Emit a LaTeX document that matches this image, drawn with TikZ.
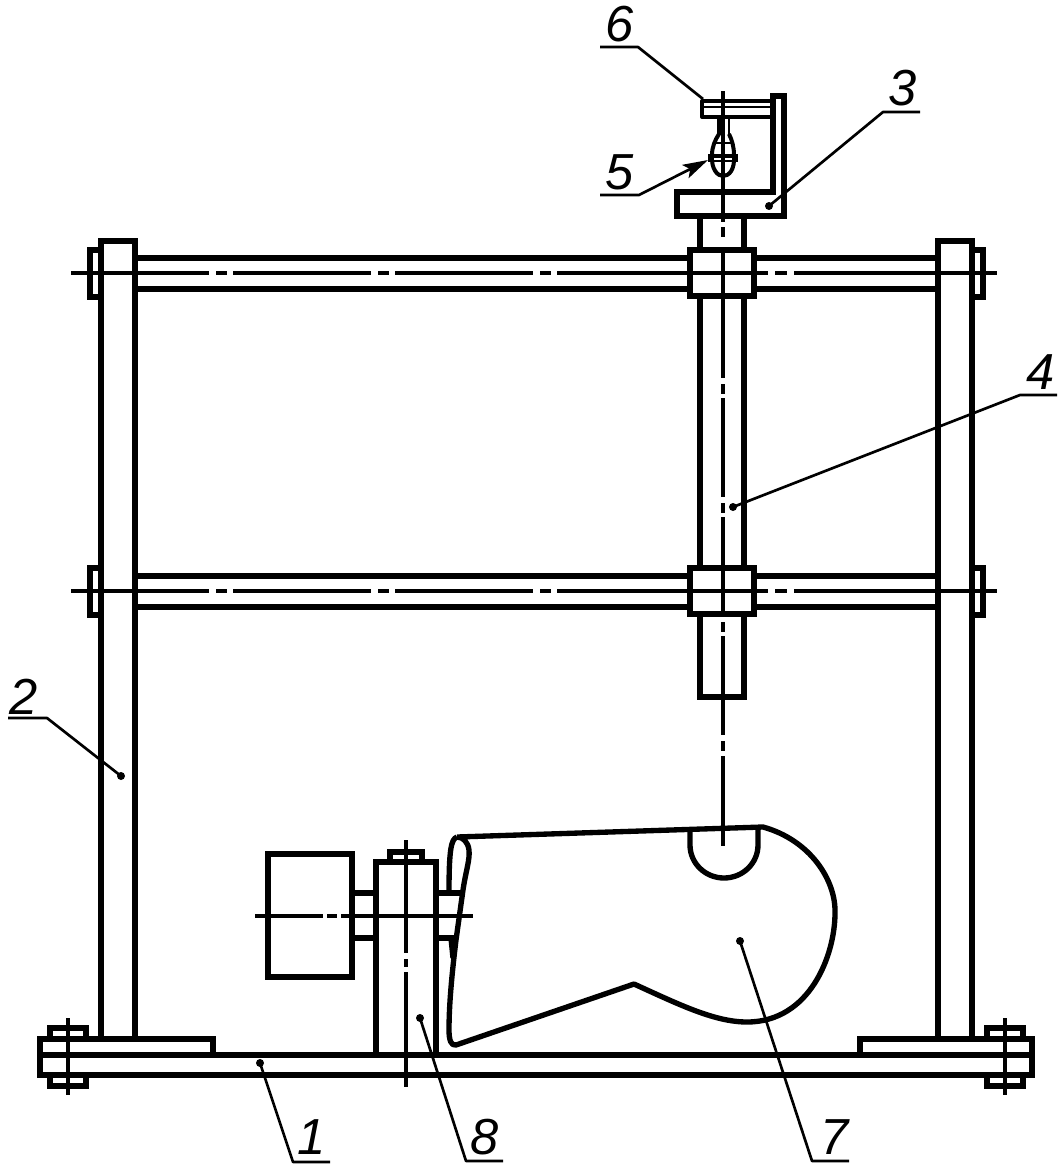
\documentclass[tikz,border=0pt]{standalone}
\usepackage{fontspec}
\setmainfont{Liberation Sans}
\usepackage{tikz}
\usetikzlibrary{arrows.meta}

\begin{document}
\begin{tikzpicture}[x=0.75pt,y=-0.75pt]
\tikzstyle{part}=[line width=4.2pt,line join=miter]
\tikzstyle{blank}=[line width=4pt,line join=round]
\tikzstyle{axis}=[line width=2.4pt]
\tikzstyle{leader}=[line width=2pt,line join=round]
\tikzstyle{hook}=[line width=3pt,line join=round]
\tikzstyle{dotmark}=[circle,fill=black,inner sep=0pt,minimum size=6pt]
\tikzstyle{num}=[inner sep=0pt,font=\fontsize{38}{38}\selectfont\itshape]
\useasboundingbox (0,0) rectangle (1062,1167);

\draw[part] (213,1055) -- (213,1039) -- (40,1039) -- (40,1075) -- (1032,1075) -- (1032,1039) -- (860,1039) -- (860,1055);
\draw[part] (40,1055) -- (1032,1055);
\foreach \x in {50,987}{
  \draw[part] (\x,1039) -- (\x,1028) -- (\x+36,1028) -- (\x+36,1039);
  \draw[part] (\x,1075) -- (\x,1086) -- (\x+36,1086) -- (\x+36,1075);
}
\draw[axis] (68,1018) -- (68,1095);
\draw[axis] (1005,1018) -- (1005,1095);

\draw[part] (101,1039) -- (101,241) -- (135,241) -- (135,1039);
\draw[part] (938,1039) -- (938,241) -- (972,241) -- (972,1039);

\foreach \y in {273,591}{
  \draw[part] (135,\y-15) -- (690,\y-15);
  \draw[part] (135,\y+16) -- (690,\y+16);
  \draw[part] (754,\y-15) -- (938,\y-15);
  \draw[part] (754,\y+16) -- (938,\y+16);
  \draw[part] (690,\y-23) rectangle (754,\y+23);
  \draw[part] (101,\y-23) -- (90,\y-23) -- (90,\y+24) -- (101,\y+24);
  \draw[part] (972,\y-23) -- (983,\y-23) -- (983,\y+24) -- (972,\y+24);
  \foreach \a/\b in {71/209,216/227,233/371,378/389,395/533,540/551,557/768,775/787,794/997}
    \draw[axis] (\a,\y) -- (\b,\y);
}

\draw[part] (700,216) -- (700,250);
\draw[part] (744,216) -- (744,250);
\draw[part] (700,296) -- (700,568);
\draw[part] (744,296) -- (744,568);
\draw[part] (700,614) -- (700,697) -- (744,697) -- (744,614);
\foreach \a/\b in {91/222,227/237,248/378,384/394,398/497,503/513,517/617,622/632,636/735,741/751,756/846}
  \draw[axis] (723,\a) -- (723,\b);

\draw[part] (677,192) -- (773,192) -- (773,96) -- (784,96) -- (784,216) -- (677,216) -- cycle;
\draw[hook] (770,101) -- (702,101) -- (702,117) -- (770,117);
\draw[leader] (702,107) -- (770,107);
\draw[line width=3.4pt] (719,117) -- (719,135);
\draw[leader] (729,117) -- (729,135);
\draw[hook] (719,134) .. controls (715,140) and (712,147) .. (712,155)
  .. controls (711,170) and (718,176) .. (723,176)
  .. controls (729,176) and (735,170) .. (734,155)
  .. controls (734,147) and (732,140) .. (729,134);
\draw[leader] (714,143) -- (732,143);
\draw[hook] (708,155.5) -- (738,155.5);
\draw[leader] (708,161) -- (738,161);
\draw[leader] (709.5,154) -- (709.5,162);
\draw[leader] (736.5,154) -- (736.5,162);

\draw[part] (352,893) -- (376,893);
\draw[part] (352,938) -- (376,938);
\draw[part] (268,854) rectangle (352,977);
\draw[part] (376,1055) -- (376,862) -- (436,862) -- (436,1055);
\draw[part] (390,862) -- (390,852) -- (422,852) -- (422,862);
\draw[part] (436,893) -- (463,893);
\draw[part] (436,938) -- (457,938);
\foreach \a/\b in {840/953,959/967,972/1087}
  \draw[axis] (406,\a) -- (406,\b);
\foreach \a/\b in {255/323,327/337,341/473}
  \draw[axis] (\a,916) -- (\b,916);

\draw[blank] (457,837) -- (763,827)
  .. controls (810,840) and (836,880) .. (835,913)
  .. controls (835,955) and (810,1022) .. (747,1022)
  .. controls (715,1022) and (680,1005) .. (634,984)
  -- (456,1045) .. controls (451,1046) and (449,1040) .. (449,1030)
  .. controls (449,1000) and (453,965) .. (456,940)
  -- (463,890) .. controls (466,870) and (470,860) .. (469,850)
  .. controls (468,842) and (463,837) .. (457,837);
\draw[blank] (457,837) .. controls (451,839) and (449,850) .. (449,893);
\draw[blank] (451,938) -- (453,958);
\draw[blank] (690,829) -- (690,845) arc[start angle=180,end angle=0,x radius=34,y radius=33] -- (758,828);

\node[num] at(620,24) (n6) {6};
\node[num] at(903,88) (n3) {3};
\node[num] at(620,172) (n5) {5};
\node[num] at(1041,372) (n4) {4};
\node[num] at(24,697) (n2) {2};
\node[num] at(312,1137) (n1) {1};
\node[num] at(485,1137) (n8) {8};
\node[num] at(835,1137) (n7) {7};

\node[dotmark] at(260,1063) (d1) {};
\node[dotmark] at(121,776) (d2) {};
\node[dotmark] at(769,206) (d3) {};
\node[dotmark] at(733,507) (d4) {};
\node[dotmark] at(420,1018) (d8) {};
\node[dotmark] at(740,941) (d7) {};

\coordinate (a6) at (703,99);
\coordinate (a5) at (708,160);

\draw[leader] (d1.center) -- (293,1162) -- (330,1162);
\draw[leader] (d2.center) -- (47,718) -- (8,718);
\draw[leader] (d3.center) -- (883,112) -- (920,112);
\draw[leader] (d4.center) -- (1020,395) -- (1057,395);
\draw[leader] (d8.center) -- (466,1161) -- (503,1161);
\draw[leader] (d7.center) -- (812,1161) -- (849,1161);
\draw[leader] (a6) -- (638,47) -- (600,47);
\draw[leader,-{Stealth[length=19pt,width=11pt,inset=4pt]}] (600,195) -- (639,195) -- (a5);
\end{tikzpicture}
\end{document}
